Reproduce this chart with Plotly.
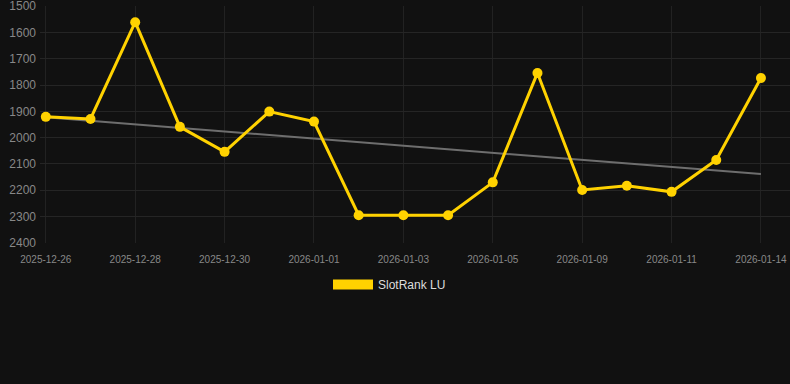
import numpy as np
import plotly.graph_objects as go

dates = ["2025-12-26", "2025-12-27", "2025-12-28", "2025-12-29", "2025-12-30", "2025-12-31",
         "2026-01-01", "2026-01-02", "2026-01-03", "2026-01-04", "2026-01-05", "2026-01-07",
         "2026-01-09", "2026-01-10", "2026-01-11", "2026-01-12", "2026-01-14"]
ranks = [1921, 1929, 1561, 1959, 2054, 1901, 1939, 2295, 2295, 2295, 2170, 1754,
         2199, 2183, 2206, 2085, 1773]
tick_dates = ["2025-12-26", "2025-12-28", "2025-12-30", "2026-01-01", "2026-01-03",
              "2026-01-05", "2026-01-09", "2026-01-11", "2026-01-14"]
y_ticks = [1500, 1600, 1700, 1800, 1900, 2000, 2100, 2200, 2300, 2400]
series_name = "SlotRank LU"

idx = np.arange(len(ranks))
slope, intercept = np.polyfit(idx, ranks, 1)
trend = slope * idx + intercept

GOLD = "#FFD200"
fig = go.Figure()
fig.add_trace(go.Scatter(x=dates, y=trend, mode="lines",
                         line=dict(color="#6e6e6e", width=2),
                         showlegend=False, hoverinfo="skip"))
fig.add_trace(go.Scatter(x=dates, y=ranks, mode="lines+markers",
                         line=dict(color=GOLD, width=3),
                         marker=dict(color=GOLD, size=10),
                         showlegend=False, name=series_name))
fig.add_trace(go.Scatter(x=[None], y=[None], mode="lines",
                         line=dict(color=GOLD, width=12),
                         name=series_name, showlegend=True))

fig.update_layout(
    width=790, height=384,
    paper_bgcolor="#111111", plot_bgcolor="#111111",
    margin=dict(l=40, r=0, t=6, b=141),
    font=dict(family="Liberation Sans, Arial, sans-serif", color="#888888"),
    legend=dict(orientation="h", x=0.466, xanchor="center", y=-0.175, yanchor="middle",
                itemwidth=40,
                font=dict(size=12, color="#dddddd"), bgcolor="rgba(0,0,0,0)"),
    xaxis=dict(type="category", categoryorder="array", categoryarray=dates,
               range=[-0.13, 16.65], tickmode="array", tickvals=tick_dates,
               ticktext=tick_dates, tickfont=dict(size=10, color="#888888"),
               showgrid=True, gridcolor="#222222", gridwidth=1, zeroline=False,
               showline=False, ticks="", ticklabelstandoff=9),
    yaxis=dict(range=[2400.5, 1499.5], tickmode="array", tickvals=y_ticks,
               tickfont=dict(size=12, color="#888888"), ticklabeloverflow="allow",
               showgrid=True, gridcolor="#252525", gridwidth=1, zeroline=False,
               showline=False, ticks="", ticklabelstandoff=3),
)
fig.write_html("out.html", config={"displayModeBar": False},
               post_script="document.body.style.margin='0';document.body.style.background='#111111';")
